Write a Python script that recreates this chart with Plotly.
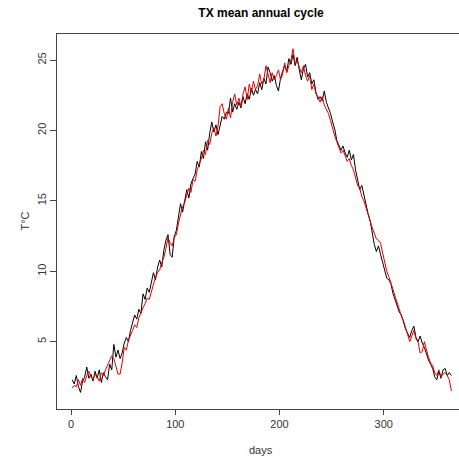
import plotly.graph_objects as go

days = list(range(1, 366, 2))

tx_black = [
    2.3, 2.0, 2.6, 1.8, 1.4, 2.2, 2.5, 3.2, 2.4, 2.7,
    2.2, 2.9, 2.4, 3.0, 2.1, 2.8, 2.5, 2.3, 3.4, 3.0,
    4.8, 3.9, 4.4, 3.8, 4.2, 4.9, 5.3, 5.0, 5.8, 6.4,
    6.9, 6.6, 7.3, 7.0, 8.4, 8.0, 8.8, 8.5, 9.3, 9.9,
    9.4, 10.3, 10.8, 10.3, 11.5, 12.2, 12.6, 11.2, 11.0, 12.5,
    12.9, 14.0, 14.8, 14.2, 15.0, 15.8, 15.2, 16.2, 16.6, 16.9,
    17.8, 17.4, 18.5, 18.0, 19.2, 18.6, 19.8, 20.6, 19.9, 20.4,
    19.7, 20.3, 21.0, 20.8, 21.3, 21.2, 22.3, 21.3, 21.9, 21.5,
    22.0, 21.6, 22.4, 21.9, 22.6, 22.2, 23.0, 22.5, 22.9, 22.6,
    23.4, 22.9, 23.7, 23.3, 24.5, 24.1, 23.5, 23.9, 23.2, 22.8,
    23.7, 24.2, 24.6, 24.2, 25.1, 24.7, 25.4, 24.6, 25.2, 24.3,
    23.6, 24.4, 24.7, 23.8, 24.1, 23.3, 23.6, 22.7, 22.2, 22.4,
    22.1, 22.8, 22.0, 21.6, 21.2, 20.6, 20.1, 19.3, 19.0, 18.6,
    18.9, 18.4, 18.1, 18.6, 17.9, 18.3, 17.2, 16.4, 15.8, 16.1,
    15.4, 14.8, 14.1, 13.6, 12.8, 11.9, 11.4, 11.8, 11.2, 10.6,
    10.1, 9.5, 9.4, 9.1, 8.4, 8.0, 7.5, 7.1, 6.9, 6.3,
    5.9, 5.6, 5.3, 5.8, 6.1, 5.3, 5.0, 5.4, 4.9, 4.6,
    4.1, 3.7, 3.4, 3.1, 2.5, 2.3, 2.9, 2.4, 3.0, 3.1,
    2.6, 2.8, 2.6,
]

tx_red = [
    1.7, 1.9, 1.8, 2.3, 1.9, 2.4, 2.1, 2.6, 2.9, 2.5,
    2.3, 2.7, 2.5, 2.2, 2.8, 2.6, 3.0, 3.3, 3.7, 4.0,
    3.8, 3.3, 2.7, 2.7, 3.5, 4.6, 4.4, 5.1, 5.4, 5.8,
    6.2, 6.0, 6.7, 7.1, 7.4, 7.7, 8.1, 8.0, 8.6, 9.0,
    9.6, 9.9, 10.1, 10.6, 11.0, 11.6, 12.4, 12.0, 11.8, 12.4,
    12.6, 13.4, 14.0, 14.6, 14.9, 15.4, 15.9, 15.6, 16.5, 16.4,
    17.2, 17.6, 18.0, 18.6, 18.3, 19.3, 19.0, 19.8, 20.2, 19.6,
    20.3, 21.7, 21.9, 21.2, 20.8, 21.6, 20.9, 22.0, 22.6, 21.8,
    22.3, 21.7, 22.6, 23.1, 22.2, 23.3, 22.7, 23.5, 22.9, 23.2,
    24.0, 23.3, 23.6, 24.6, 23.9, 23.4, 24.1, 23.6, 23.9, 24.3,
    23.6, 24.0, 24.8, 24.1, 24.6, 25.0, 25.8, 24.7, 24.9, 24.5,
    24.1, 24.6, 23.9, 23.5, 23.9, 22.9, 23.3, 22.6, 22.4, 22.0,
    22.4, 21.8, 21.5, 21.2, 20.7, 20.1, 19.6, 19.2, 18.8, 18.4,
    18.6, 18.2, 17.8, 18.0, 17.5, 17.2, 16.6, 16.1, 15.9, 15.3,
    15.0, 14.5, 14.0, 13.6, 13.1, 12.7, 12.3, 12.2, 12.0, 11.3,
    10.6, 10.0, 9.6, 9.2, 8.7, 8.2, 7.8, 7.3, 6.8, 6.5,
    6.0, 5.4, 5.0, 5.4, 5.8, 5.2, 5.0, 4.2, 4.3, 5.0,
    4.4, 3.9, 3.5, 3.3, 2.8, 2.6, 3.0, 2.5, 2.7, 2.8,
    2.6, 2.3, 1.5,
]

x_ticks = [0, 100, 200, 300]
y_ticks = [5, 10, 15, 20, 25]

W = H = 459
L, R, T, B = 57, 0, 34, 50
PW = W - L - R
PH = H - T - B
FONT = "Liberation Sans, Arial, sans-serif"
AXC = "#444444"
CX = (261 - L) / PW  # horizontal centre used by title and x label

fig = go.Figure()
fig.add_trace(go.Scatter(x=days, y=tx_black, mode="lines",
                         line=dict(color="black", width=1), showlegend=False))
fig.add_trace(go.Scatter(x=days, y=tx_red, mode="lines",
                         line=dict(color="#e00000", width=1), showlegend=False))

fig.update_layout(
    width=W, height=H,
    margin=dict(l=L, r=R, t=T, b=B, pad=0),
    paper_bgcolor="white", plot_bgcolor="white",
    font=dict(family=FONT, size=11, color="#333333"),
    xaxis=dict(range=[-13.56, 372.3], tickvals=x_ticks, ticks="outside",
               ticklen=5, tickcolor=AXC, showline=True, linecolor=AXC,
               linewidth=1, mirror=True, showgrid=False, zeroline=False,
               tickfont=dict(size=11, color="#333333")),
    yaxis=dict(range=[0.22, 26.85], tickvals=y_ticks, ticks="outside",
               ticklen=6, tickcolor=AXC, showline=True, linecolor=AXC,
               linewidth=1, showgrid=False, zeroline=False, tickangle=-90,
               tickfont=dict(size=11, color="#333333")),
    title=dict(text="<b>TX mean annual cycle</b>", x=CX,
               xref="paper", xanchor="center", y=1 - 13 / H, yref="container",
               yanchor="middle", font=dict(size=12, color="black", family=FONT)),
    annotations=[
        dict(text="days", x=CX, xref="paper",
             y=-(450 - (H - B)) / PH, yref="paper", yanchor="middle",
             showarrow=False, font=dict(size=11, color="#333333")),
        dict(text="T\u00b0C", x=(16 - L) / PW, xref="paper", y=0.5, yref="paper",
             showarrow=False, textangle=-90, font=dict(size=11, color="#333333")),
    ],
)

fig.write_html("out.html")
